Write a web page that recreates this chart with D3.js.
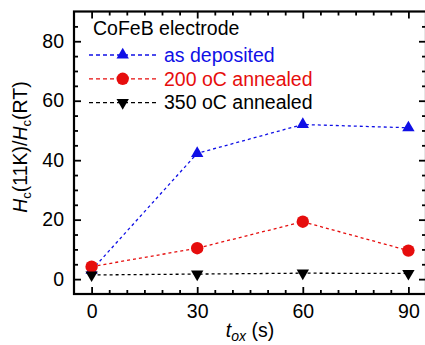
<!DOCTYPE html>
<html>
<head>
<meta charset="utf-8">
<script src="https://cdn.jsdelivr.net/npm/d3@7"></script>
<style>
  body { margin: 0; background: #fff; }
  svg { display: block; font-family: "Liberation Sans", Arial, sans-serif; }
</style>
</head>
<body>
<svg id="chart" width="425" height="345"></svg>
<script>
// data
const tox = [0, 30, 60, 90];
const asDeposited = [3, 42.3, 52, 50.9];
const annealed200 = [4.2, 10.4, 19.3, 9.6];
const annealed350 = [1.4, 1.7, 2.0, 1.9];

const xMajor = [0, 30, 60, 90];
const yMajor = [0, 20, 40, 60, 80];

const series = [
  {name: 'as deposited', values: asDeposited, color: '#1010e6', marker: 'up'},
  {name: '200 oC annealed', values: annealed200, color: '#e60d0d', marker: 'circle'},
  {name: '350 oC annealed', values: annealed350, color: '#000000', marker: 'down'}
];

const svg = d3.select('#chart');
const fs = 19.5;

const x = d3.scaleLinear().domain([-5, 95]).range([74, 426]);
const y = d3.scaleLinear().domain([-5, 90]).range([294, 11.5]);

const xMinor = d3.range(-5, 96, 5).filter(v => !xMajor.includes(v) && v > -5 && v < 95);
const yMinor = d3.range(-5, 91, 5).filter(v => !yMajor.includes(v) && v > -5 && v < 90);

const clean = g => {
  g.select('.domain').remove();
  g.selectAll('line').attr('stroke', '#000').attr('stroke-width', 1.8);
};

// major + minor ticks, all pointing inward
const addAxis = (axis, tr, vals, size, labels) => {
  const a = axis.tickValues(vals).tickSize(-size).tickPadding(10);
  if (!labels) a.tickFormat('');
  const g = svg.append('g').attr('transform', tr).call(a).call(clean);
  g.selectAll('text').attr('font-size', fs).attr('fill', '#000')
    .attr('font-family', '"Liberation Sans", Arial, sans-serif');
  return g;
};

addAxis(d3.axisBottom(x), `translate(0,${y(-5)})`, xMajor, 7, true);
addAxis(d3.axisBottom(x), `translate(0,${y(-5)})`, xMinor, 4, false);
addAxis(d3.axisTop(x), `translate(0,${y(90)})`, xMajor, 7, false);
addAxis(d3.axisTop(x), `translate(0,${y(90)})`, xMinor, 4, false);
addAxis(d3.axisLeft(y), `translate(${x(-5)},0)`, yMajor, 7, true);
addAxis(d3.axisLeft(y), `translate(${x(-5)},0)`, yMinor, 4, false);
addAxis(d3.axisRight(y), `translate(${x(95)},0)`, yMajor, 7, false);
addAxis(d3.axisRight(y), `translate(${x(95)},0)`, yMinor, 4, false);

// frame
svg.append('rect')
  .attr('x', x(-5)).attr('y', y(90))
  .attr('width', x(95) - x(-5)).attr('height', y(-5) - y(90))
  .attr('fill', 'none').attr('stroke', '#000').attr('stroke-width', 2.2);

const line = d3.line().x(d => x(d[0])).y(d => y(d[1]));
const tri = d3.symbol().type(d3.symbolTriangle).size(66);

const drawMarker = (g, s, cx, cy) => {
  if (s.marker === 'circle') {
    g.append('circle').attr('cx', cx).attr('cy', cy).attr('r', 6.2).attr('fill', s.color);
  } else {
    g.append('path').attr('d', tri())
      .attr('transform', `translate(${cx},${cy})` + (s.marker === 'down' ? ' rotate(180)' : ''))
      .attr('fill', s.color);
  }
};

const plot = svg.append('g');
series.forEach(s => {
  const pts = tox.map((t, i) => [t, s.values[i]]);
  plot.append('path').attr('d', line(pts))
    .attr('fill', 'none').attr('stroke', s.color)
    .attr('stroke-width', 1.3).attr('stroke-dasharray', '3,3');
});
series.forEach(s => {
  tox.forEach((t, i) => drawMarker(plot, s, x(t), y(s.values[i])));
});

// legend
svg.append('text').attr('x', 93).attr('y', 34.5)
  .attr('font-size', fs).attr('fill', '#000').text('CoFeB electrode');

series.forEach((s, i) => {
  const cy = 55 + i * 23.8;
  const g = svg.append('g');
  g.append('line').attr('x1', 89).attr('x2', 157).attr('y1', cy).attr('y2', cy)
    .attr('stroke', s.color).attr('stroke-width', 1.3).attr('stroke-dasharray', '4,3');
  drawMarker(g, s, 122.7, cy);
  g.append('text').attr('x', 164).attr('y', cy + 6.8)
    .attr('font-size', fs).attr('fill', s.color).text(s.name);
});

// axis titles
const xt = svg.append('text').attr('x', 250).attr('y', 337)
  .attr('text-anchor', 'middle').attr('font-size', fs);
xt.append('tspan').attr('font-style', 'italic').text('t');
xt.append('tspan').attr('font-style', 'italic').attr('font-size', 14).attr('dy', 4).text('ox');
xt.append('tspan').attr('dy', -4).text(' (s)');

const yt = svg.append('text')
  .attr('transform', 'translate(27,147) rotate(-90)')
  .attr('text-anchor', 'middle').attr('font-size', fs);
yt.append('tspan').attr('font-style', 'italic').text('H');
yt.append('tspan').attr('font-size', 13).attr('dy', 4).text('c');
yt.append('tspan').attr('dy', -4).text('(11K)/');
yt.append('tspan').attr('font-style', 'italic').text('H');
yt.append('tspan').attr('font-size', 13).attr('dy', 4).text('c');
yt.append('tspan').attr('dy', -4).text('(RT)');
</script>
</body>
</html>
